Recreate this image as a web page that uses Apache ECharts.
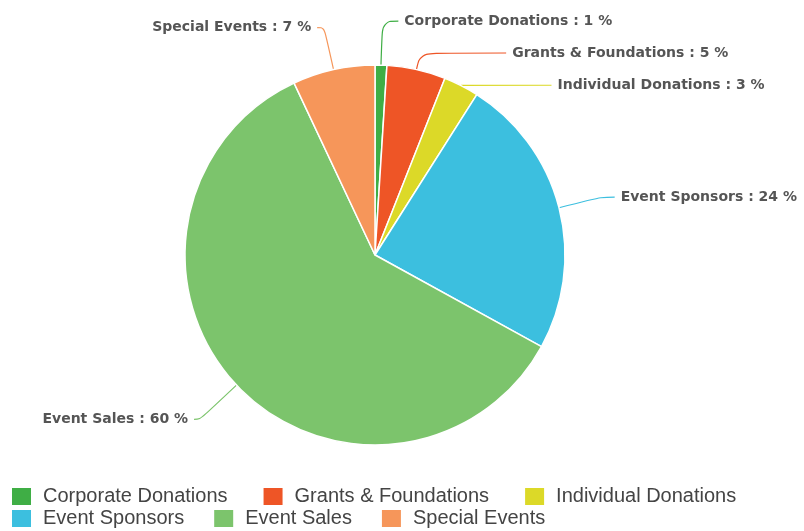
<!DOCTYPE html>
<html><head><meta charset="utf-8">
<script src="https://cdn.jsdelivr.net/npm/echarts@6/dist/echarts.min.js"></script>
<style>html,body{margin:0;padding:0;background:#fff}#c{width:804px;height:531px}</style>
</head><body><div id="c"></div>
<script>
const categories = ['Corporate Donations','Grants & Foundations','Individual Donations','Event Sponsors','Event Sales','Special Events'];
const values = [1,5,3,24,60,7];
const colors = ['#3fae45','#ee5526','#dcd928','#3cbfdf','#7cc46c','#f6965a'];
// label line lengths (style) per slice
const lineLen = [44,17,0.5,43,50,43];
const lineLen2 = [16,86,90,14,6,7];
const chart = echarts.init(document.getElementById('c'));
const legendCommon = {
  left: 5, itemWidth: 21, itemHeight: 19, icon: 'rect',
  textStyle: {fontFamily: 'Liberation Sans Narrow, Arial Narrow, sans-serif', fontSize: 20, color: '#444', padding: [0,0,0,6]}
};
chart.setOption({
  animation: false,
  color: colors,
  legend: [
    Object.assign({}, legendCommon, {top: 481, itemGap: 34, data: categories.slice(0,3)}),
    Object.assign({}, legendCommon, {top: 503, itemGap: 28, data: categories.slice(3)})
  ],
  series: [{
    type: 'pie',
    center: [375, 255],
    radius: 190,
    startAngle: 90,
    clockwise: true,
    avoidLabelOverlap: false,
    data: categories.map((n,i)=>({name:n, value:values[i], labelLine:{length:lineLen[i], length2:lineLen2[i]}})),
    itemStyle: {borderColor: '#fff', borderWidth: 1.5},
    label: {
      formatter: '{b} : {c} %',
      fontFamily: 'DejaVu Sans', fontWeight: 'bold', fontSize: 14, color: '#555',
      distanceToLabelLine: 6
    },
    labelLine: {smooth: 0.4, lineStyle: {width: 1.2}}
  }]
});
</script></body></html>
